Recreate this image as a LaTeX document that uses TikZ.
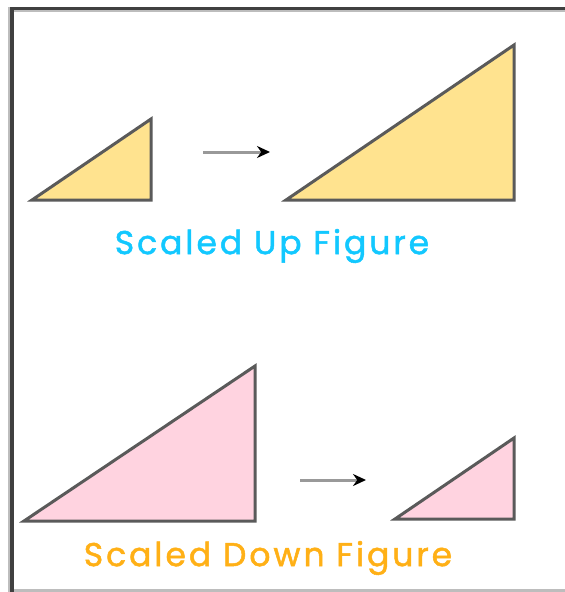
\documentclass[tikz,border=0pt]{standalone}
\usepackage{fontspec}
\setmainfont{Poppins}
\newfontfamily\lblfont{Poppins}[LetterSpace=9, FakeBold=1.5]
\usetikzlibrary{arrows.meta}
\definecolor{frameDark}{HTML}{404040}
\definecolor{frameGray}{HTML}{BDBDBD}
\definecolor{yel}{HTML}{FFE38F}
\definecolor{pnk}{HTML}{FFD3E0}
\definecolor{edge}{HTML}{5A5A5A}
\definecolor{cyanTxt}{HTML}{12C8FF}
\definecolor{orgTxt}{HTML}{FFB016}
\tikzset{
  tri/.style={draw=edge, line width=3pt, line join=miter},
  arr/.style={draw=black!40, line width=3pt, -{Stealth[length=13pt,width=12pt,color=black]}},
  lbl/.style={font=\lblfont\fontsize{33}{33}\selectfont, inner sep=0pt}
}
\begin{document}
\begin{tikzpicture}[x=1pt,y=-1pt]
\useasboundingbox (0,0) rectangle (565,592);
\fill[white] (0,0) rectangle (565,592);
% frame
\fill[frameGray] (8,10) rectangle (565,12);
\fill[frameDark] (8,7) rectangle (565,10);
\fill[frameGray] (8,7) rectangle (10,592);
\fill[frameDark] (10,7) rectangle (14,592);
\fill[frameGray] (14,589) rectangle (565,592);
% top triangles
\coordinate (a1) at (32,200); \coordinate (a2) at (151,200); \coordinate (a3) at (151,119);
\filldraw[tri, fill=yel] (a1) -- (a2) -- (a3) -- cycle;
\coordinate (b1) at (286,200); \coordinate (b2) at (514,200); \coordinate (b3) at (514,45);
\filldraw[tri, fill=yel] (b1) -- (b2) -- (b3) -- cycle;
\coordinate (u1) at (203,152); \coordinate (u2) at (270,152);
\draw[arr] (u1) -- (u2);
\node[lbl, text=cyanTxt] (up) at (272,246) {Scaled Up Figure};
% bottom triangles
\coordinate (c1) at (24,521); \coordinate (c2) at (255,521); \coordinate (c3) at (255,366);
\filldraw[tri, fill=pnk] (c1) -- (c2) -- (c3) -- cycle;
\coordinate (d1) at (395,519); \coordinate (d2) at (514,519); \coordinate (d3) at (514,438);
\filldraw[tri, fill=pnk] (d1) -- (d2) -- (d3) -- cycle;
\coordinate (v1) at (300,480); \coordinate (v2) at (366,480);
\draw[arr] (v1) -- (v2);
\node[lbl, text=orgTxt] (down) at (268,558) {Scaled Down Figure};
\end{tikzpicture}
\end{document}
